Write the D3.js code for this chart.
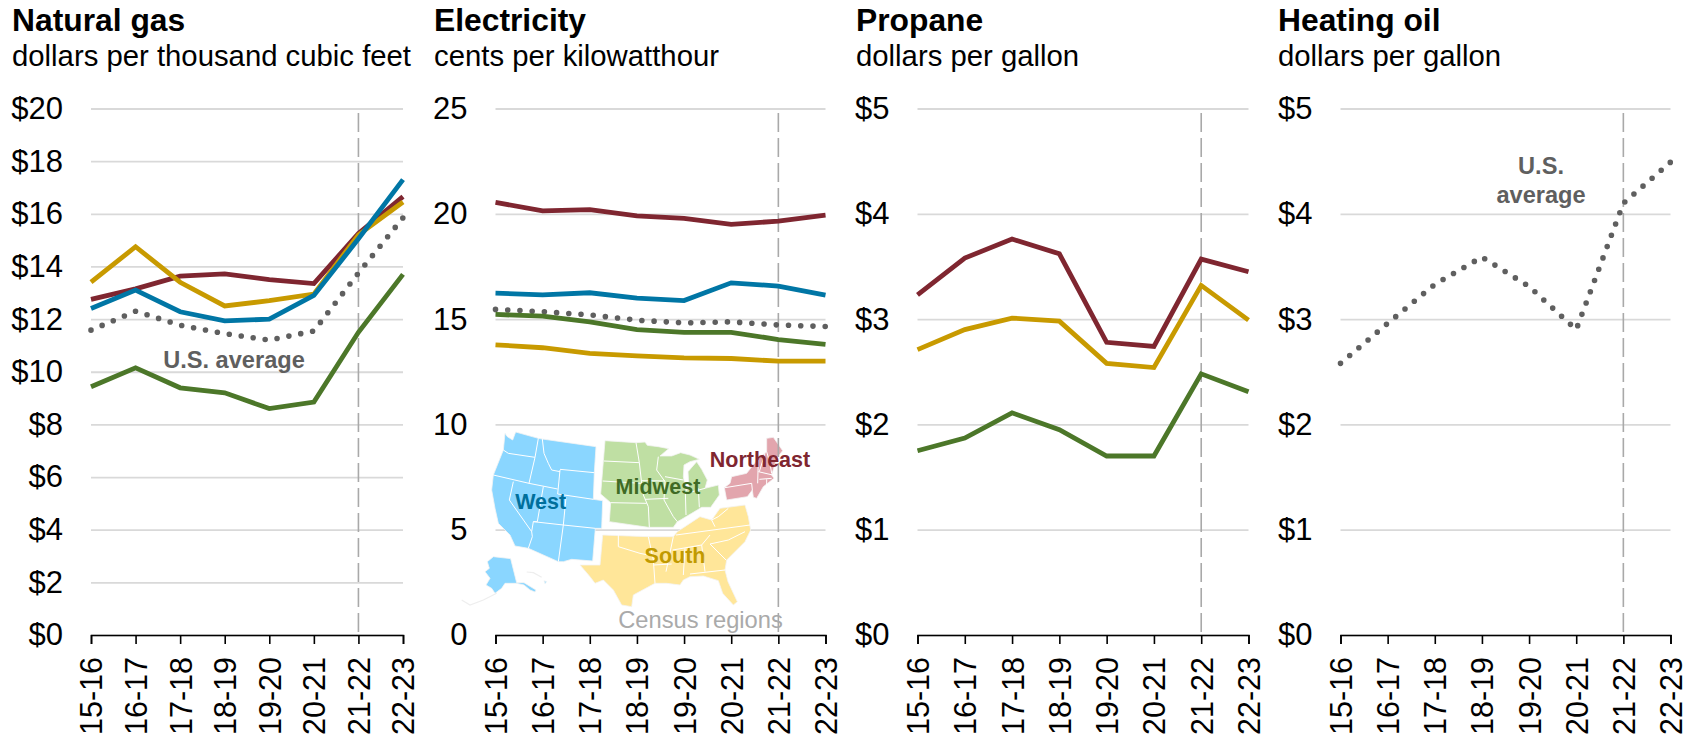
<!DOCTYPE html>
<html><head><meta charset="utf-8">
<script src="https://cdn.jsdelivr.net/npm/d3@7/dist/d3.min.js"></script>
<style>html,body{margin:0;background:#fff}svg{display:block;font-family:"Liberation Sans",Arial,sans-serif}</style>
</head><body><svg id="c" width="1692" height="740"></svg>
<script>
const years=["15-16","16-17","17-18","18-19","19-20","20-21","21-22","22-23"];
const forecastStart="21-22";
const colors={West:"#0076a5",Northeast:"#7f2630",South:"#c89a00",Midwest:"#4c7729",US:"#5f5f5f"};

const gasWest=[12.4,13.1,12.28,11.93,12.0,12.9,15.05,17.3];
const gasNortheast=[12.75,13.15,13.63,13.72,13.5,13.35,15.25,16.65];
const gasSouth=[13.4,14.75,13.4,12.5,12.7,12.95,15.2,16.45];
const gasMidwest=[9.43,10.15,9.39,9.2,8.6,8.85,11.5,13.7];
const gasUS=[11.58,12.3,11.77,11.45,11.2,11.55,13.75,15.85];

const elecNortheast=[20.54,20.14,20.2,19.9,19.78,19.5,19.65,19.94];
const elecWest=[16.23,16.15,16.25,16.0,15.88,16.72,16.57,16.14];
const elecUS=[15.46,15.35,15.2,14.95,14.82,14.87,14.72,14.65];
const elecMidwest=[15.22,15.14,14.87,14.5,14.37,14.37,14.03,13.8];
const elecSouth=[13.78,13.64,13.37,13.25,13.16,13.13,13.0,13.0];

const propNortheast=[3.23,3.58,3.76,3.62,2.78,2.74,3.57,3.45];
const propSouth=[2.71,2.9,3.01,2.98,2.58,2.54,3.32,2.99];
const propMidwest=[1.75,1.87,2.11,1.95,1.70,1.70,2.48,2.31];

const oilUS=[2.58,2.96,3.33,3.59,3.31,2.9,4.1,4.49];

const gasTicks=[0,2,4,6,8,10,12,14,16,18,20];
const elecTicks=[0,5,10,15,20,25];
const dollarTicks=[0,1,2,3,4,5];

const panels=[
 {title:"Natural gas",sub:"dollars per thousand cubic feet",tx:12,x0:91,x1:403,max:20,ticks:gasTicks,fmt:d=>"$"+d,
  series:[["Northeast",gasNortheast],["South",gasSouth],["West",gasWest],["Midwest",gasMidwest],["US",gasUS]]},
 {title:"Electricity",sub:"cents per kilowatthour",tx:434,x0:495.5,x1:825.5,max:25,ticks:elecTicks,fmt:d=>""+d,map:true,
  series:[["Northeast",elecNortheast],["West",elecWest],["US",elecUS],["Midwest",elecMidwest],["South",elecSouth]]},
 {title:"Propane",sub:"dollars per gallon",tx:856,x0:917.5,x1:1248.5,max:5,ticks:dollarTicks,fmt:d=>"$"+d,
  series:[["Northeast",propNortheast],["South",propSouth],["Midwest",propMidwest]]},
 {title:"Heating oil",sub:"dollars per gallon",tx:1278,x0:1340.5,x1:1670.5,max:5,ticks:dollarTicks,fmt:d=>"$"+d,
  series:[["US",oilUS]]}
];

/* census-region map outlines, in map units */
const westOutline=[[165,40],[172,50],[188,60],[197,36],[265,55],[277,57],[438,80],[433,157],[430,238],[458,242],[455,325],[436,325],[428,423],[365,418],[340,425],[325,425],[235,385],[195,378],[180,345],[145,310],[135,265],[125,210],[130,165],[160,90]];
const westLines=[[[160,90],[175,100],[255,112]],[[265,55],[255,112],[237,190]],[[277,57],[282,100],[295,130],[305,150],[330,155]],[[330,148],[433,158]],[[330,150],[323,222]],[[130,165],[237,190],[323,207]],[[323,222],[430,238]],[[280,200],[262,305]],[[348,232],[340,315]],[[190,185],[178,240],[245,335],[247,350],[235,385]],[[262,305],[250,305],[245,335]],[[250,305],[340,315],[436,325]],[[340,315],[325,425]]];
const alaskaOutline=[[112,425],[130,410],[182,416],[200,488],[222,488],[258,510],[255,516],[240,510],[222,495],[200,490],[165,490],[155,505],[135,520],[125,505],[108,495],[120,475],[105,455],[118,445]];
const aleutians=[[35,540],[60,555],[100,540],[140,520]];
const hawaii=[[230,456],[250,458],[275,472]];
const hawaiiBig=[[282,482],[290,485],[285,491]];
const midwestOutline=[[45,62],[138,68],[165,66],[172,76],[205,80],[236,86],[210,108],[245,108],[272,98],[300,105],[328,118],[300,125],[282,135],[280,170],[288,212],[297,207],[294,155],[320,125],[335,148],[352,180],[345,205],[385,195],[388,225],[362,262],[335,262],[305,280],[275,298],[262,305],[250,322],[175,322],[58,305],[62,248],[32,222]];
const midwestLines=[[[42,123],[148,128]],[[38,183],[155,190]],[[62,248],[170,250]],[[138,68],[148,128],[155,190],[160,225],[175,260],[178,322]],[[155,182],[225,183]],[[165,238],[235,235]],[[205,110],[200,150],[225,185],[222,240],[250,290],[262,305]],[[225,170],[280,180]],[[286,215],[288,285]],[[325,205],[328,262]],[[288,220],[345,205]]];
const northeastOutline=[[530,55],[550,52],[578,92],[560,115],[545,165],[552,175],[520,200],[500,235],[490,232],[487,210],[472,230],[410,240],[403,203],[420,190],[425,170],[470,160],[505,115],[530,95]];
const northeastLines=[[[405,203],[485,190],[487,210]],[[505,120],[503,190]],[[525,100],[508,155]],[[530,95],[540,130],[545,160]],[[505,155],[548,165]],[[508,178],[545,175]],[[530,178],[530,195]]];
const southOutline=[[38,345],[175,350],[250,350],[262,335],[330,290],[365,300],[390,265],[465,255],[475,290],[482,330],[465,365],[410,420],[405,450],[414,485],[442,545],[430,555],[398,520],[385,482],[340,468],[300,470],[280,480],[270,495],[230,490],[195,490],[130,525],[125,560],[95,555],[70,510],[40,480],[15,490],[0,470],[-30,435],[30,435]];
const southLines=[[[85,345],[85,380],[150,400],[175,405]],[[175,350],[190,420],[195,490]],[[190,435],[245,432]],[[258,345],[480,315]],[[250,350],[228,455]],[[285,385],[280,465]],[[335,375],[345,455]],[[300,462],[405,450]],[[360,372],[415,360],[465,335]],[[360,372],[408,420]],[[375,320],[365,300]],[[365,300],[385,290],[415,265]],[[335,375],[360,345]],[[248,390],[335,375]]];
const regionLabels=[["West",540.7,508.5],["Midwest",658,494],["Northeast",760,466.5],["South",675,562.5]];

const svg=d3.select("#c");
const yTop=108.5,yBase=635;

function drawMap(g){
  const zx=d3.scaleLinear().domain([0,3]).range([0,1]);
  const west=d3.line().x(p=>450+zx(p[0])).y(p=>420+zx(p[1]));
  const east=d3.line().x(p=>590+zx(p[0])).y(p=>420+zx(p[1]));
  const fill=(d,l,c)=>g.append("path").attr("d",l(d)+"Z").attr("fill",c).attr("stroke","#f4f4f4").attr("stroke-width",0.8).attr("stroke-linejoin","round");
  const inner=(ls,l)=>ls.forEach(d=>g.append("path").attr("d",l(d)).attr("fill","none").attr("stroke","#fff").attr("stroke-width",1));
  const faint=(d,l)=>g.append("path").attr("d",l(d)).attr("fill","none").attr("stroke","#eee").attr("stroke-width",1.2);
  fill(westOutline,west,"#8ad6ff"); inner(westLines,west);
  fill(alaskaOutline,west,"#8ad6ff"); faint(aleutians,west); faint(hawaii,west); fill(hawaiiBig,west,"#8ad6ff");
  fill(midwestOutline,east,"#bfdfa3"); inner(midwestLines,east);
  fill(northeastOutline,east,"#e2a5ad"); inner(northeastLines,east);
  fill(southOutline,east,"#ffe699"); inner(southLines,east);
}

panels.forEach(p=>{
  const x=d3.scalePoint().domain(years).range([p.x0,p.x1]);
  const y=d3.scaleLinear().domain([0,p.max]).range([yBase,yTop]);
  const g=svg.append("g");
  g.append("text").attr("x",p.tx).attr("y",31).attr("font-size",31.8).attr("font-weight","bold").attr("fill","#000").text(p.title);
  g.append("text").attr("x",p.tx).attr("y",66).attr("font-size",29.3).attr("fill","#000").text(p.sub);

  const ya=g.append("g").attr("transform",`translate(${p.x0},0)`)
    .call(d3.axisLeft(y).tickValues(p.ticks).tickFormat(p.fmt).tickSize(-(p.x1-p.x0)).tickPadding(28));
  ya.select(".domain").remove();
  ya.selectAll("line").attr("stroke","#d9d9d9").attr("stroke-width",1.8);
  ya.selectAll("text").attr("font-size",31).attr("font-family","inherit").attr("fill","#000");

  if(p.map) drawMap(g);

  g.append("line").attr("x1",x(forecastStart)).attr("x2",x(forecastStart)).attr("y1",113).attr("y2",yBase)
    .attr("stroke","#a9a9a9").attr("stroke-width",1.6).attr("stroke-dasharray","19 6");

  const xa=g.append("g").attr("transform",`translate(0,${yBase})`)
    .call(d3.axisBottom(x).tickSize(9).tickPadding(0));
  xa.selectAll("path,line").attr("stroke","#000").attr("stroke-width",1.6);
  xa.selectAll("text").attr("font-size",30.5).attr("font-family","inherit").attr("fill","#000")
    .attr("text-anchor","end").attr("transform","translate(0,22) rotate(-90)").attr("x",0).attr("y",0).attr("dy","0.36em");

  const line=d3.line().x((d,i)=>x(years[i])).y(d=>y(d));
  p.series.forEach(([k,v])=>{
    const path=g.append("path").attr("d",line(v)).attr("fill","none").attr("stroke",colors[k]);
    if(k==="US"){
      const len=path.node().getTotalLength();
      path.attr("stroke-width",5.6).attr("stroke-linecap","round").attr("stroke-dasharray",`0 ${(len-0.3)/Math.round(len/12.2)}`);
    } else path.attr("stroke-width",4.8).attr("stroke-linejoin","miter");
  });

  if(p.map){
    regionLabels.forEach(([k,lx,ly])=>{
      g.append("text").attr("x",lx).attr("y",ly).attr("text-anchor","middle").attr("font-size",21.5).attr("font-weight","bold")
       .attr("fill",k==="Midwest"?"#3f6b25":k==="West"?"#006f9c":k==="South"?"#c19a00":colors[k]).text(k);
    });
    g.append("text").attr("x",700.5).attr("y",627.5).attr("text-anchor","middle").attr("font-size",23.7).attr("fill","#aaaaaa").text("Census regions");
  }
});
const av=(t,lx,ly)=>svg.append("text").attr("x",lx).attr("y",ly).attr("text-anchor","middle").attr("font-size",23.6).attr("font-weight","bold").attr("fill",colors.US).text(t);
av("U.S. average",234,367.5);
av("U.S.",1541,174);
av("average",1541,203);
</script></body></html>
